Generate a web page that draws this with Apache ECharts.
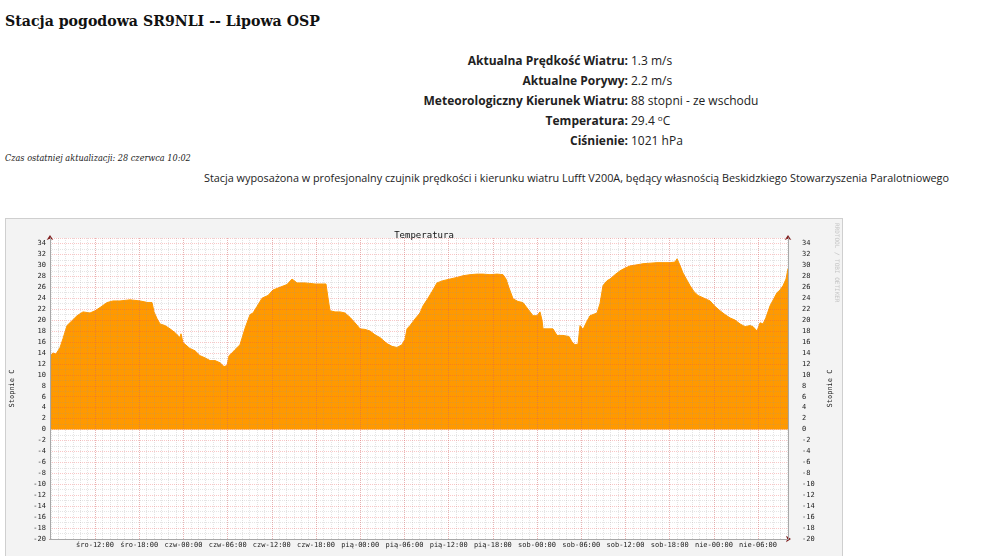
<!DOCTYPE html>
<html lang="pl">
<head>
<meta charset="utf-8">
<title>Stacja pogodowa SR9NLI -- Lipowa OSP</title>
<script src="https://cdn.jsdelivr.net/npm/echarts@6/dist/echarts.min.js"></script>
<style>
  html, body { margin: 0; padding: 0; background: #fff; width: 1000px; height: 556px; overflow: hidden; }
  .abs { position: absolute; white-space: nowrap; }
  #title { left: 5px; top: 11px; font: bold 16px "DejaVu Serif", serif; color: #111; line-height: 20px; }
  #info { left: 0; top: 51px; width: 1000px; font-family: "Open Sans", sans-serif; font-size: 12px; color: #222; }
  #info .row { position: absolute; left: 0; height: 20px; line-height: 20px; width: 1000px; }
  #info .lbl { position: absolute; right: 372px; font-weight: bold; }
  #info .val { position: absolute; left: 631px; }
  #info .deg { position: relative; top: -4px; font-size: 8px; line-height: 0; }
  #updated { left: 5px; top: 152px; font: italic 9px "DejaVu Serif Condensed", "DejaVu Serif", serif;
             font-stretch: condensed; color: #222; line-height: 12px; }
  #note { left: 204px; top: 170px; font: 11.5px "Open Sans", sans-serif; color: #222; line-height: 16px; }
  #panel { position: absolute; left: 5px; top: 218px; width: 838px; height: 340px; box-sizing: border-box;
           border: 1px solid #cfcfcf; background: #f3f3f3; }
  #chart { position: absolute; left: 0; top: 0; width: 836px; height: 338px; }
</style>
</head>
<body>
<div id="title" class="abs"><span id="title-text">Stacja pogodowa SR9NLI -- Lipowa OSP</span></div>
<div id="info" class="abs">
  <div class="row" style="top:0px"><span class="lbl">Aktualna Prędkość Wiatru:</span><span class="val">1.3 m/s</span></div>
  <div class="row" style="top:20px"><span class="lbl">Aktualne Porywy:</span><span class="val">2.2 m/s</span></div>
  <div class="row" style="top:40px"><span class="lbl">Meteorologiczny Kierunek Wiatru:</span><span class="val">88 stopni - ze wschodu</span></div>
  <div class="row" style="top:60px"><span class="lbl">Temperatura:</span><span class="val">29.4 <span class="deg">o</span>C</span></div>
  <div class="row" style="top:80px"><span class="lbl">Ciśnienie:</span><span class="val">1021 hPa</span></div>
</div>
<div id="updated" class="abs"><span id="updated-text">Czas ostatniej aktualizacji: 28 czerwca 10:02</span></div>
<div id="note" class="abs"><span id="note-text">Stacja wyposażona w profesjonalny czujnik prędkości i kierunku wiatru Lufft V200A, będący własnością Beskidzkiego Stowarzyszenia Paralotniowego</span></div>
<div id="panel"><div id="chart"></div></div>

<script>
// Temperature over ~100 h.
// Hours are counted from Wednesday (śro) 00:00.

const SAMPLE_HOURS = [
  5.89, 6.30, 6.70, 6.98, 7.25, 7.65, 8.20, 8.88, 9.56, 10.37,
  11.32, 12.00, 12.68, 13.63, 14.44, 15.39, 16.75, 18.11, 19.19, 19.74,
  20.01, 20.41, 20.82, 21.50, 22.18, 22.86, 23.26, 23.54, 23.67, 23.94,
  24.89, 25.57, 26.25, 26.93, 27.61, 28.29, 28.97, 29.51, 29.92, 30.19,
  30.60, 31.00, 31.68, 32.36, 33.04, 33.45, 33.99, 34.67, 35.48, 36.16,
  37.11, 38.06, 38.74, 39.42, 40.50, 41.86, 42.81, 43.35, 43.63, 43.90,
  44.58, 45.25, 45.93, 46.61, 47.29, 47.97, 48.65, 49.33, 50.01, 50.68,
  51.63, 52.31, 52.99, 53.67, 54.08, 54.35, 54.76, 55.43, 56.11, 56.52,
  57.20, 57.74, 58.42, 59.24, 60.19, 61.14, 61.95, 62.90, 63.85, 64.66,
  65.61, 66.56, 67.38, 67.79, 68.19, 68.74, 69.41, 70.09, 70.77, 71.45,
  71.99, 72.40, 72.67, 72.81, 73.49, 74.16, 74.71, 75.52, 76.34, 76.74,
  77.15, 77.56, 77.83, 78.24, 78.78, 79.19, 80.14, 80.54, 80.95, 81.50,
  81.90, 82.58, 83.26, 83.94, 84.62, 85.57, 86.38, 87.33, 88.28, 89.37,
  90.05, 90.72, 91.00, 91.40, 91.81, 92.35, 92.76, 93.30, 93.85, 94.66,
  95.48, 96.16, 96.84, 97.51, 98.19, 98.87, 99.55, 100.23, 100.91, 101.32,
  101.86, 102.27, 102.67, 103.08, 103.62, 104.17, 104.57, 104.98, 105.39, 105.79,
  106.06,
];

const TEMPERATURES = [
  13.5, 14.0, 13.8, 14.4, 15.0, 16.6, 19.0, 19.9, 20.8, 21.5,
  21.3, 21.7, 22.3, 23.2, 23.5, 23.5, 23.7, 23.5, 23.2, 23.2,
  21.5, 20.3, 19.3, 19.0, 18.4, 17.7, 17.2, 16.8, 17.5, 15.9,
  14.8, 14.4, 13.5, 13.1, 12.6, 12.6, 12.2, 11.5, 11.7, 13.5,
  14.0, 14.6, 15.5, 18.5, 21.0, 21.3, 22.5, 24.0, 24.5, 25.5,
  26.0, 26.5, 27.5, 26.8, 26.8, 26.6, 26.6, 26.6, 24.0, 21.7,
  21.5, 21.5, 21.3, 20.5, 19.5, 18.4, 18.3, 18.0, 17.3, 16.8,
  15.7, 15.2, 15.0, 15.5, 16.5, 18.4, 19.0, 20.2, 21.3, 22.6,
  24.0, 25.2, 26.8, 27.2, 27.5, 27.8, 28.1, 28.3, 28.4, 28.4,
  28.3, 28.4, 28.3, 27.5, 25.9, 23.9, 23.4, 23.2, 22.0, 20.8,
  20.8, 21.5, 20.0, 18.4, 18.4, 18.4, 17.2, 17.2, 17.0, 16.0,
  15.5, 15.6, 19.0, 18.3, 19.8, 20.8, 21.3, 23.0, 26.3, 27.2,
  27.5, 28.3, 29.0, 29.5, 29.9, 30.1, 30.3, 30.4, 30.5, 30.5,
  30.5, 30.6, 31.2, 30.0, 28.6, 27.3, 26.3, 25.2, 24.5, 24.0,
  23.5, 22.5, 21.7, 21.0, 20.4, 20.0, 19.3, 18.8, 19.0, 18.8,
  18.0, 19.5, 19.3, 20.5, 22.6, 24.0, 25.0, 25.5, 26.3, 27.5,
  29.4,
];

// Labelled x ticks (every 6 h) and their text.
const X_TICK_HOURS = [12, 18, 24, 30, 36, 42, 48, 54, 60, 66, 72, 78, 84, 90, 96, 102];
const X_TICK_LABELS = [
  "śro-12:00", "śro-18:00", "czw-00:00", "czw-06:00", "czw-12:00", "czw-18:00",
  "pią-00:00", "pią-06:00", "pią-12:00", "pią-18:00", "sob-00:00", "sob-06:00",
  "sob-12:00", "sob-18:00", "nie-00:00", "nie-06:00",
];

const X_MIN = 5.89;
const X_MAX = 106.06;
const Y_MIN = -20;
const Y_MAX = 35;

// Scale a text span so it spans the same width as in the reference page.
function fitWidth(id, target) {
  const el = document.getElementById(id);
  const w = el.getBoundingClientRect().width;
  const size = parseFloat(getComputedStyle(el).fontSize);
  el.style.fontSize = (size * target / w).toFixed(2) + "px";
}
fitWidth("title-text", 315);
fitWidth("updated-text", 186);
fitWidth("note-text", 745);

const MONO = "DejaVu Sans Mono, monospace";
const ORANGE = "#ff9900";
const GRID_MINOR = "rgba(150,150,150,0.26)";
const GRID_MAJOR = "rgba(235,80,80,0.32)";
const AXIS_GRAY = "#a8a8a8";
const ARROW = "#7f1f1f";

const hourlyTicks = [];
for (let h = Math.ceil(X_MIN); h <= X_MAX; h++) hourlyTicks.push(h);

const tickLabel = (v) => {
  const i = X_TICK_HOURS.indexOf(Math.round(v));
  return i >= 0 ? X_TICK_LABELS[i] : "";
};

const chart = echarts.init(document.getElementById("chart"), null, { renderer: "canvas" });

const yBase = { type: "value", min: Y_MIN, max: Y_MAX, interval: 2 };

chart.setOption({
  animation: false,
  backgroundColor: "transparent",
  title: {
    text: "Temperatura",
    left: "center",
    top: 7,
    textStyle: { fontFamily: MONO, fontSize: 9, fontWeight: "normal", color: "#111" },
  },
  grid: {
    left: 44, top: 19, width: 738, height: 301,
    show: true, backgroundColor: "#ffffff", borderWidth: 0,
    containLabel: false, outerBoundsMode: "none",
  },
  graphic: [
    {
      type: "text",
      x: 831, y: 4,
      rotation: -Math.PI / 2,
      style: {
        text: "RRDTOOL / TOBI OETIKER",
        fill: "#c4c4c4",
        font: "6px " + MONO,
        verticalAlign: "middle",
      },
    },
  ],
  xAxis: [
    {
      // labelled axis, red major grid every 6 h
      type: "value", position: "bottom", min: X_MIN, max: X_MAX, z: 5,
      axisLine: { show: true, onZero: false, lineStyle: { color: AXIS_GRAY, width: 1 } },
      axisTick: { show: false, customValues: X_TICK_HOURS },
      axisLabel: {
        customValues: X_TICK_HOURS, formatter: tickLabel, margin: 3,
        fontFamily: MONO, fontSize: 7, color: "#222",
      },
      splitLine: { show: true, lineStyle: { color: GRID_MAJOR, type: [1, 1], width: 1 } },
    },
    {
      // hourly minor grid + arrow head
      type: "value", position: "bottom", min: X_MIN, max: X_MAX, z: 4,
      axisLine: {
        show: true, onZero: false, symbol: ["none", "arrow"], symbolSize: [5, 5], symbolOffset: [0, 3],
        lineStyle: { color: ARROW, width: 1 },
      },
      axisTick: { show: false, customValues: hourlyTicks },
      axisLabel: { show: false },
      splitLine: { show: true, lineStyle: { color: GRID_MINOR, type: [1, 1], width: 1 } },
    },
  ],
  yAxis: [
    {
      ...yBase, position: "left", z: 5,
      name: "Stopnie C", nameLocation: "middle", nameGap: 34, nameRotate: 90,
      nameTextStyle: { fontFamily: MONO, fontSize: 7, color: "#222" },
      axisLine: { show: true, lineStyle: { color: AXIS_GRAY, width: 1 } },
      axisTick: { show: false },
      axisLabel: { showMaxLabel: false, margin: 4, fontFamily: MONO, fontSize: 7, color: "#222" },
      splitLine: { show: true, lineStyle: { color: GRID_MAJOR, type: [1, 1], width: 1 } },
      minorTick: { show: false, splitNumber: 2 },
      minorSplitLine: { show: true, lineStyle: { color: GRID_MINOR, type: [1, 1], width: 1 } },
    },
    {
      ...yBase, position: "right", z: 5,
      name: "Stopnie C", nameLocation: "middle", nameGap: 39, nameRotate: 90,
      nameTextStyle: { fontFamily: MONO, fontSize: 7, color: "#222" },
      axisLine: { show: true, lineStyle: { color: AXIS_GRAY, width: 1 } },
      axisTick: { show: false },
      axisLabel: { showMaxLabel: false, margin: 14, align: "left", fontFamily: MONO, fontSize: 7, color: "#222" },
      splitLine: { show: false },
    },
    {
      // arrow heads on the two vertical axes
      ...yBase, position: "left", z: 4,
      axisLine: {
        show: true, symbol: ["none", "arrow"], symbolSize: [5, 5], symbolOffset: [0, 3],
        lineStyle: { color: ARROW, width: 1 },
      },
      axisTick: { show: false }, axisLabel: { show: false }, splitLine: { show: false },
    },
    {
      ...yBase, position: "right", z: 4,
      axisLine: {
        show: true, symbol: ["none", "arrow"], symbolSize: [5, 5], symbolOffset: [0, 3],
        lineStyle: { color: ARROW, width: 1 },
      },
      axisTick: { show: false }, axisLabel: { show: false }, splitLine: { show: false },
    },
  ],
  series: [
    {
      name: "Temperatura",
      type: "line",
      xAxisIndex: 0,
      yAxisIndex: 0,
      z: 2,
      showSymbol: false,
      symbol: "none",
      lineStyle: { color: ORANGE, width: 1 },
      areaStyle: { color: ORANGE, opacity: 1, origin: 0 },
      data: SAMPLE_HOURS.map((h, i) => [h, TEMPERATURES[i]]),
    },
  ],
});
</script>
</body>
</html>
